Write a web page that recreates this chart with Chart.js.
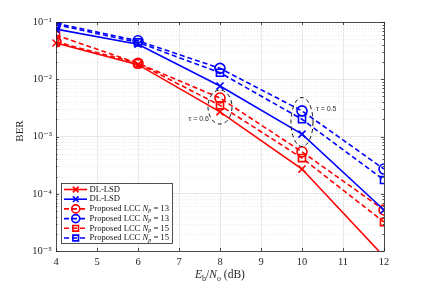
<!DOCTYPE html>
<html><head><meta charset="utf-8">
<script src="https://cdn.jsdelivr.net/npm/chart.js@4.4.1/dist/chart.umd.min.js"></script>
<style>html,body{margin:0;padding:0;background:#fff;}#wrap{width:424px;height:283px;}</style>
</head><body><div id="wrap"><canvas id="c" width="424" height="283"></canvas></div>
<script>
// ---- data ----
const ebno = [4, 6, 8, 10, 12];
const dlLsdRed   = [0.043, 0.018, 0.0027, 0.00027, 0.000008];
const dlLsdBlue  = [0.075, 0.041, 0.0076, 0.0011, 0.000052];
const lcc13Red   = [0.045, 0.019, 0.0047, 0.00054, 0.000052];
const lcc13Blue  = [0.095, 0.047, 0.0155, 0.0028, 0.00027];
const lcc15Red   = [0.059, 0.019, 0.0035, 0.00042, 0.000032];
const lcc15Blue  = [0.090, 0.044, 0.013, 0.0020, 0.000174];
const xTicks = [4, 5, 6, 7, 8, 9, 10, 11, 12];
const yDecades = [1e-5, 1e-4, 1e-3, 1e-2, 1e-1];
const seriesNames = ['DL-LSD', 'DL-LSD', 'Proposed LCC N_p = 13', 'Proposed LCC N_p = 13', 'Proposed LCC N_p = 15', 'Proposed LCC N_p = 15'];
const tauLabels = ['τ = 0.6', 'τ = 0.5'];
const tauCenters = [[8, 0.00327], [10, 0.00179]];

const RED = '#ff0000', BLUE = '#0000ff';
const SERIF = '"Liberation Serif", "DejaVu Serif", serif';
const pts = arr => arr.map((v, i) => ({x: ebno[i], y: v}));
const supMap = {'-':'⁻','0':'⁰','1':'¹','2':'²','3':'³','4':'⁴','5':'⁵','6':'⁶','7':'⁷','8':'⁸','9':'⁹'};
const sup = s => String(s).split('').map(c => supMap[c] || c).join('');
const isDecade = v => { const e = Math.log10(v); return Math.abs(e - Math.round(e)) < 1e-6; };

function ds(label, data, color, dashed, style, radius) {
  return {label, data: pts(data), borderColor: color, backgroundColor: color,
    borderWidth: 1.6, borderDash: dashed ? [5, 3] : [], tension: 0,
    pointStyle: style, pointRadius: radius, pointHoverRadius: radius,
    pointBorderColor: color, pointBackgroundColor: 'rgba(0,0,0,0)', pointBorderWidth: 1.6,
    fill: false};
}
const datasets = [
  Object.assign(ds(seriesNames[0], dlLsdRed, RED, false, 'crossRot', 5), {clip: {left: 10, right: 10, top: 10, bottom: 0}}),
  ds(seriesNames[1], dlLsdBlue, BLUE, false, 'crossRot', 5),
  ds(seriesNames[2], lcc13Red, RED, true, 'circle', 5),
  ds(seriesNames[3], lcc13Blue, BLUE, true, 'circle', 5),
  ds(seriesNames[4], lcc15Red, RED, true, 'rect', 5),
  ds(seriesNames[5], lcc15Blue, BLUE, true, 'rect', 5)
];

const decor = {
  id: 'decor',
  beforeDatasetsDraw(chart) {
    const {ctx, chartArea: a, scales: {x, y}} = chart;
    ctx.save();
    ctx.strokeStyle = '#e4e4e4'; ctx.lineWidth = 0.8; ctx.setLineDash([1, 2]);
    for (let e = -5; e < -1; e++) {
      for (let m = 2; m <= 9; m++) {
        const py = Math.round(y.getPixelForValue(m * Math.pow(10, e))) + 0.5;
        ctx.beginPath(); ctx.moveTo(a.left, py); ctx.lineTo(a.right, py); ctx.stroke();
      }
    }
    ctx.restore();
  },
  afterDraw(chart) {
    const {ctx, chartArea: a, scales: {x, y}} = chart;
    ctx.save();
    // box
    ctx.strokeStyle = '#262626'; ctx.lineWidth = 0.8; ctx.setLineDash([]);
    ctx.strokeRect(a.left + 0.5, a.top + 0.5, a.right - a.left, a.bottom - a.top);
    // inward ticks
    ctx.beginPath();
    xTicks.forEach(t => {
      const px = Math.round(x.getPixelForValue(t)) + 0.5;
      ctx.moveTo(px, a.bottom); ctx.lineTo(px, a.bottom - 3);
      ctx.moveTo(px, a.top); ctx.lineTo(px, a.top + 3);
    });
    for (let e = -5; e <= -1; e++) {
      for (let m = 1; m <= 9; m++) {
        const v = m * Math.pow(10, e);
        if (v > 0.1000001) break;
        const py = Math.round(y.getPixelForValue(v)) + 0.5;
        const L = m === 1 ? 3 : 1.5;
        ctx.moveTo(a.left, py); ctx.lineTo(a.left + L, py);
        ctx.moveTo(a.right, py); ctx.lineTo(a.right - L, py);
      }
    }
    ctx.stroke();

    // tau ellipses
    ctx.strokeStyle = '#111'; ctx.lineWidth = 1; ctx.setLineDash([4, 3]);
    const radii = [[12, 17], [11, 24.5]];
    tauCenters.forEach((c, i) => {
      const cx = x.getPixelForValue(c[0]), cy = y.getPixelForValue(c[1]);
      ctx.beginPath(); ctx.ellipse(cx, cy, radii[i][0], radii[i][1], 0, 0, Math.PI * 2); ctx.stroke();
    });
    ctx.setLineDash([]);
    ctx.fillStyle = '#333'; ctx.font = '7px "Liberation Sans", Arial, sans-serif'; ctx.textBaseline = 'middle';
    {
      const cx = x.getPixelForValue(tauCenters[0][0]), cy = y.getPixelForValue(tauCenters[0][1]);
      ctx.textAlign = 'right'; ctx.fillText(tauLabels[0], cx - 11, cy + 12);
      const cx2 = x.getPixelForValue(tauCenters[1][0]), cy2 = y.getPixelForValue(tauCenters[1][1]);
      ctx.textAlign = 'left'; ctx.fillText(tauLabels[1], cx2 + 14, cy2 - 13);
    }

    // axis titles
    ctx.fillStyle = '#262626';
    ctx.save();
    ctx.translate(20, 131); ctx.rotate(-Math.PI / 2);
    ctx.font = '11px ' + SERIF; ctx.textAlign = 'center'; ctx.textBaseline = 'middle';
    ctx.fillText('BER', 0, 0);
    ctx.restore();
    // x title: E_b/N_o (dB)
    {
      const parts = [
        {t: 'E', f: 'italic 11.5px ' + SERIF, dy: 0},
        {t: 'b', f: '8px ' + SERIF, dy: 2.5},
        {t: '/', f: '11.5px ' + SERIF, dy: 0},
        {t: 'N', f: 'italic 11.5px ' + SERIF, dy: 0},
        {t: 'o', f: '8px ' + SERIF, dy: 2.5},
        {t: ' (dB)', f: '11.5px ' + SERIF, dy: 0}
      ];
      let w = 0;
      parts.forEach(p => { ctx.font = p.f; p.w = ctx.measureText(p.t).width; w += p.w; });
      let px = (a.left + a.right) / 2 - w / 2;
      ctx.textAlign = 'left'; ctx.textBaseline = 'alphabetic';
      parts.forEach(p => { ctx.font = p.f; ctx.fillText(p.t, px, 278 + p.dy); px += p.w; });
    }

    // legend
    const lx = 61.5, ly = 183.5, lw = 111, lh = 60;
    ctx.fillStyle = '#fff'; ctx.fillRect(lx, ly, lw, lh);
    ctx.strokeStyle = '#262626'; ctx.lineWidth = 0.8; ctx.strokeRect(lx, ly, lw, lh);
    chart.data.datasets.forEach((d, i) => {
      const ry = 189.5 + i * 9.7;
      ctx.strokeStyle = d.borderColor; ctx.lineWidth = 1.6;
      ctx.setLineDash(d.borderDash);
      ctx.beginPath(); ctx.moveTo(64, ry); ctx.lineTo(87, ry); ctx.stroke();
      ctx.setLineDash([]);
      ctx.fillStyle = 'rgba(0,0,0,0)';
      ctx.strokeStyle = d.borderColor; ctx.lineWidth = 1.6;
      Chart.helpers.drawPoint(ctx, {pointStyle: d.pointStyle, rotation: 0, radius: 4, borderWidth: 1.6}, 75.7, ry);
      // label
      ctx.fillStyle = '#111'; ctx.textBaseline = 'middle'; ctx.textAlign = 'left';
      const name = d.label;
      let tx = 89.5;
      if (name.indexOf('N_p') >= 0) {
        const [pre, post] = name.split('N_p');
        const segs = [
          {t: pre, f: '8.6px ' + SERIF, dy: 0},
          {t: 'N', f: 'italic 8.6px ' + SERIF, dy: 0},
          {t: 'p', f: 'italic 6px ' + SERIF, dy: 2},
          {t: post, f: '8.6px ' + SERIF, dy: 0}
        ];
        segs.forEach(s => { ctx.font = s.f; ctx.fillText(s.t, tx, ry + s.dy); tx += ctx.measureText(s.t).width; });
      } else {
        ctx.font = '8.6px ' + SERIF; ctx.fillText(name, tx, ry);
      }
    });
    ctx.restore();
  }
};

new Chart(document.getElementById('c'), {
  type: 'line',
  data: {datasets},
  options: {
    responsive: false, animation: false, devicePixelRatio: 1,
    layout: {padding: {left: 0, right: 40, top: 22, bottom: 0}},
    plugins: {legend: {display: false}, tooltip: {enabled: false}},
    scales: {
      x: {
        type: 'linear', min: 4, max: 12,
        afterFit(s) { s.height = 32; },
        afterBuildTicks(s) { s.ticks = xTicks.map(v => ({value: v})); },
        ticks: {padding: 5, color: '#262626', font: {family: SERIF, size: 10.5}, maxRotation: 0, autoSkip: false},
        grid: {color: '#e2e2e2', lineWidth: 0.8, drawTicks: false},
        border: {display: false},
        title: {display: false}
      },
      y: {
        type: 'logarithmic', min: 1e-5, max: 1e-1,
        afterFit(s) { s.width = 56; },
        ticks: {
          padding: 4, color: '#262626', font: {family: SERIF, size: 10.5}, autoSkip: false,
          callback: v => isDecade(v) ? '10' + sup(Math.round(Math.log10(v))) : ''
        },
        grid: {color: c => (c.tick && isDecade(c.tick.value)) ? '#e2e2e2' : 'rgba(0,0,0,0)', lineWidth: 0.8, drawTicks: false},
        border: {display: false},
        title: {display: false}
      }
    }
  },
  plugins: [decor]
});
</script>
</body></html>
